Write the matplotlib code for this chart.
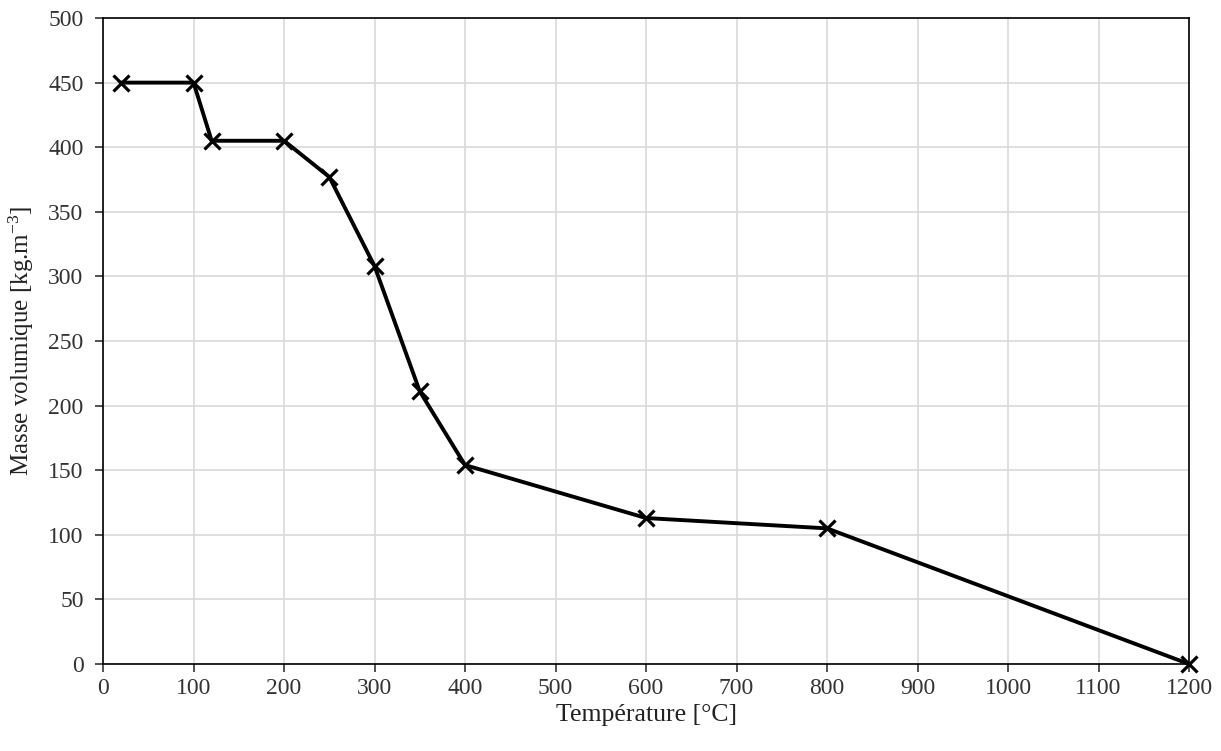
import matplotlib
matplotlib.use("Agg")
import matplotlib.pyplot as plt

temperature = [20, 100, 120, 200, 250, 300, 350, 400, 600, 800, 1200]
masse_volumique = [450, 450, 405, 405, 377, 308, 211, 154, 113, 105, 0]
x_ticks = list(range(0, 1201, 100))
y_ticks = list(range(0, 501, 50))

plt.rcParams['font.family'] = ['Liberation Serif', 'DejaVu Serif']
plt.rcParams['mathtext.fontset'] = 'custom'
plt.rcParams['mathtext.rm'] = 'Liberation Serif'
plt.rcParams['mathtext.it'] = 'Liberation Serif'
plt.rcParams['mathtext.default'] = 'rm'

fig = plt.figure(figsize=(12.21, 7.51), dpi=100)
ax = fig.add_axes([0.0844, 0.1158, 0.9738 - 0.0844, 0.976 - 0.1158])

ax.plot(temperature, masse_volumique, color='black', linewidth=2.8,
        marker='x', markersize=11, markeredgewidth=2.3, zorder=3, clip_on=False)

ax.set_xlim(0, 1200)
ax.set_ylim(0, 500)
ax.set_xticks(x_ticks)
ax.set_yticks(y_ticks)
ax.grid(True, color='#d9d9d9', linewidth=1.2)
ax.set_axisbelow(True)
for s in ax.spines.values():
    s.set_color('black')
    s.set_linewidth(1.2)
ax.tick_params(axis='both', direction='out', length=6, width=1.2, labelsize=17,
               colors='#333333', pad=4)
ax.tick_params(axis='y', pad=8)
ax.set_xlabel('Température [°C]', fontsize=18.5, labelpad=4, color='#222222')
ax.set_ylabel('Masse volumique [kg.m$^{-3}$]', fontsize=18, labelpad=9, color='#222222')

fig.savefig('out.png', dpi=100)
